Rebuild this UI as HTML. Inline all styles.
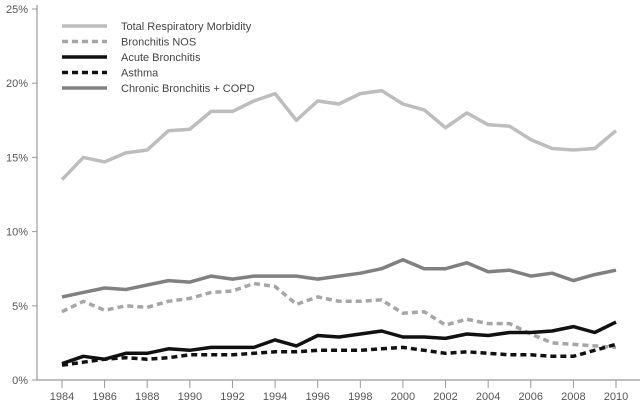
<!DOCTYPE html>
<html><head><meta charset="utf-8"><style>
html,body{margin:0;padding:0;background:#fff;}
svg{display:block;font-family:"Liberation Sans",sans-serif;}
</style></head><body>
<svg id="chart" width="640" height="405" viewBox="0 0 640 405" xmlns="http://www.w3.org/2000/svg">
<g id="axes"></g>
<g id="series"></g>
<g id="legend"></g>
</svg>
<script>
const years = [1984,1985,1986,1987,1988,1989,1990,1991,1992,1993,1994,1995,1996,1997,1998,1999,2000,2001,2002,2003,2004,2005,2006,2007,2008,2009,2010];
const totalResp = [13.5,15.0,14.7,15.3,15.5,16.8,16.9,18.1,18.1,18.8,19.3,17.5,18.8,18.6,19.3,19.5,18.6,18.2,17.0,18.0,17.2,17.1,16.2,15.6,15.5,15.6,16.8];
const bronchitisNOS = [4.6,5.3,4.7,5.0,4.9,5.3,5.5,5.9,6.0,6.5,6.3,5.1,5.6,5.3,5.3,5.4,4.5,4.6,3.7,4.1,3.8,3.8,3.1,2.5,2.4,2.3,2.2];
const acuteBronchitis = [1.1,1.6,1.4,1.8,1.8,2.1,2.0,2.2,2.2,2.2,2.7,2.3,3.0,2.9,3.1,3.3,2.9,2.9,2.8,3.1,3.0,3.2,3.2,3.3,3.6,3.2,3.9];
const asthma = [1.0,1.2,1.4,1.5,1.4,1.5,1.7,1.7,1.7,1.8,1.9,1.9,2.0,2.0,2.0,2.1,2.2,2.0,1.8,1.9,1.8,1.7,1.7,1.6,1.6,2.0,2.4];
const chronicCOPD = [5.6,5.9,6.2,6.1,6.4,6.7,6.6,7.0,6.8,7.0,7.0,7.0,6.8,7.0,7.2,7.5,8.1,7.5,7.5,7.9,7.3,7.4,7.0,7.2,6.7,7.1,7.4];
const yTicks = [0,5,10,15,20,25];
const xTickLabels = [1984,1986,1988,1990,1992,1994,1996,1998,2000,2002,2004,2006,2008,2010];

const NS="http://www.w3.org/2000/svg";
const X0=37, Y0=380;
function xs(yr){return 62+(yr-1984)*(616-62)/26;}
function ys(v){return 380-v*(380-9)/25;}
function mk(tag,attrs,parent){const e=document.createElementNS(NS,tag);for(const k in attrs)e.setAttribute(k,attrs[k]);parent.appendChild(e);return e;}
const axes=document.getElementById('axes');
let a=mk('line',{x1:X0,y1:5,x2:X0,y2:Y0,stroke:'#999','stroke-width':1.2},axes);


a=mk('line',{x1:X0,y1:Y0,x2:640,y2:Y0,stroke:'#999','stroke-width':1.2},axes);


yTicks.forEach(v=>{
  const t=mk('line',{x1:X0-5,y1:ys(v),x2:X0,y2:ys(v),stroke:'#999'},axes);
  
  
  const l=mk('text',{x:X0-9,y:ys(v)+4,'text-anchor':'end','font-size':11,fill:'#555'},axes);
  l.textContent=v+'%';
  
  
});
xTickLabels.forEach(yr=>{
  const t=mk('line',{x1:xs(yr),y1:Y0,x2:xs(yr),y2:Y0+8,stroke:'#999'},axes);
  
  
  const l=mk('text',{x:xs(yr),y:Y0+20,'text-anchor':'middle','font-size':11,fill:'#555'},axes);
  l.textContent=yr;
  
  
});
const defs=[
  {name:'Total Respiratory Morbidity',data:totalResp,color:'#bdbdbd',dash:null,key:'total-respiratory-morbidity'},
  {name:'Bronchitis NOS',data:bronchitisNOS,color:'#a6a6a6',dash:'6,4',key:'bronchitis-nos'},
  {name:'Acute Bronchitis',data:acuteBronchitis,color:'#111',dash:null,key:'acute-bronchitis'},
  {name:'Asthma',data:asthma,color:'#111',dash:'6,4',key:'asthma'},
  {name:'Chronic Bronchitis + COPD',data:chronicCOPD,color:'#808080',dash:null,key:'chronic-bronchitis-copd'}
];
const sg=document.getElementById('series'), lg=document.getElementById('legend');
defs.forEach((d,i)=>{
  const pts=d.data.map((v,j)=>xs(years[j]).toFixed(1)+','+ys(v).toFixed(1)).join(' ');
  const p=mk('polyline',{points:pts,fill:'none',stroke:d.color,'stroke-width':3.5,'stroke-linejoin':'round'},sg);
  if(d.dash)p.setAttribute('stroke-dasharray',d.dash);
  
  
  const ly=26+i*15.5;
  const g=mk('g',{},lg);
  
  
  const ll=mk('line',{x1:62,y1:ly,x2:107,y2:ly,stroke:d.color,'stroke-width':3.5},g);
  if(d.dash)ll.setAttribute('stroke-dasharray',d.dash);
  const lt=mk('text',{x:121,y:ly+4,'font-size':11,fill:'#444'},g);
  lt.textContent=d.name;
});
</script>
</body></html>
